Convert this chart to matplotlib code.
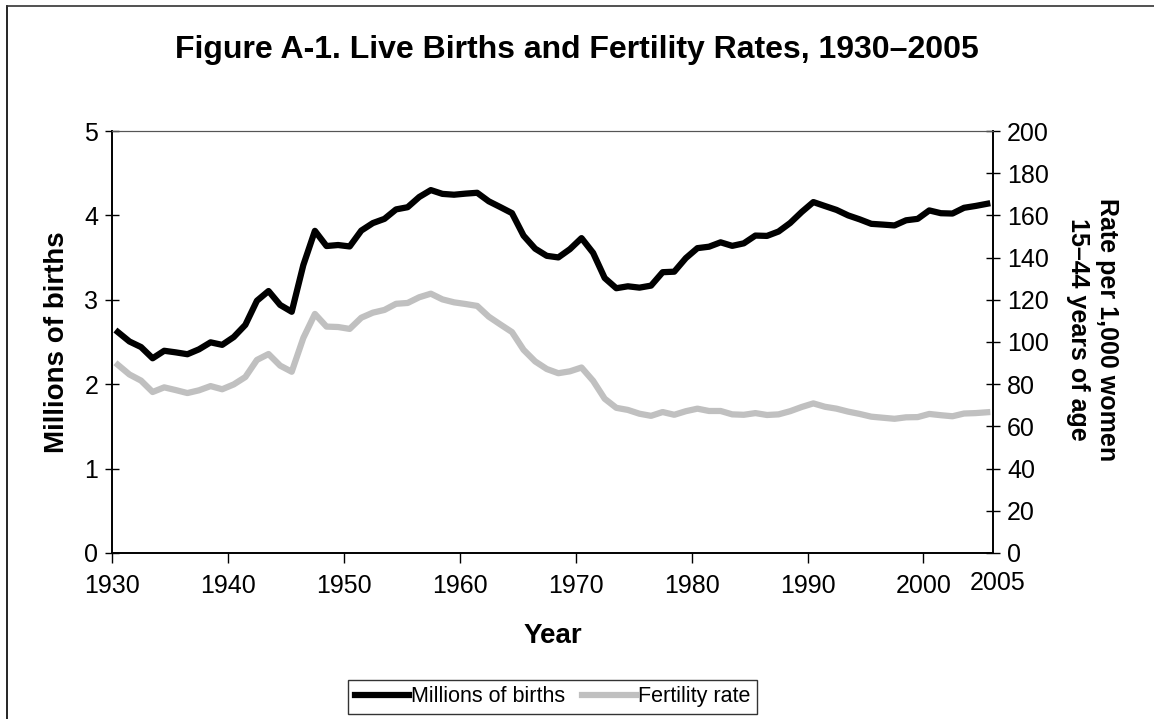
import numpy as np
import matplotlib.pyplot as plt
from matplotlib.lines import Line2D

plt.rcParams['font.family'] = ['Liberation Sans', 'DejaVu Sans']

# data (US live births and general fertility rate)
years = np.arange(1930, 2006)
births = [2.618, 2.506, 2.440, 2.307, 2.396, 2.377, 2.355, 2.413, 2.496, 2.466,
          2.559, 2.703, 2.989, 3.104, 2.939, 2.858, 3.411, 3.817, 3.637, 3.649,
          3.632, 3.820, 3.909, 3.959, 4.071, 4.097, 4.218, 4.300, 4.255, 4.245,
          4.258, 4.268, 4.167, 4.098, 4.027, 3.760, 3.606, 3.521, 3.502, 3.600,
          3.731, 3.556, 3.258, 3.137, 3.160, 3.144, 3.168, 3.327, 3.333, 3.494,
          3.612, 3.629, 3.681, 3.639, 3.669, 3.761, 3.757, 3.809, 3.910, 4.041,
          4.158, 4.111, 4.065, 4.000, 3.953, 3.900, 3.891, 3.881, 3.942, 3.959,
          4.059, 4.026, 4.022, 4.090, 4.112, 4.138]
fertility = [89.2, 84.6, 81.7, 76.3, 78.5, 77.2, 75.8, 77.1, 79.1, 77.6,
             79.9, 83.4, 91.5, 94.3, 88.8, 85.9, 101.9, 113.3, 107.3, 107.1,
             106.2, 111.5, 113.9, 115.2, 118.1, 118.5, 121.2, 122.9, 120.2, 118.8,
             118.0, 117.1, 112.0, 108.3, 104.7, 96.3, 90.8, 87.2, 85.2, 86.1,
             87.9, 81.6, 73.1, 68.8, 67.8, 66.0, 65.0, 66.8, 65.5, 67.2,
             68.4, 67.3, 67.3, 65.7, 65.5, 66.3, 65.4, 65.7, 67.2, 69.2,
             70.9, 69.3, 68.4, 67.0, 65.9, 64.6, 64.1, 63.6, 64.3, 64.4,
             65.9, 65.3, 64.8, 66.1, 66.3, 66.7]
xticks = [1930, 1940, 1950, 1960, 1970, 1980, 1990, 2000]

fig = plt.figure(figsize=(11.54, 7.19), dpi=100)
ax = fig.add_axes([0.0971, 0.2309, 0.7634, 0.5869])
ax2 = ax.twinx()

# category-style axis: each year sits in the middle of its slot
l1, = ax.plot(years + 0.5, births, color='black', lw=4.5, solid_joinstyle='round')
l2, = ax2.plot(years + 0.5, fertility, color='#c0c0c0', lw=4.5, solid_joinstyle='round')

ax.set_xlim(1930, 2006)
ax.set_ylim(0, 5)
ax2.set_ylim(0, 200)
ax.set_xticks(xticks)
ax.set_yticks(range(0, 6))
ax2.set_yticks(range(0, 201, 20))

ax.tick_params(axis='x', labelsize=18, length=7, width=1, pad=8)
ax.tick_params(axis='y', labelsize=18, direction='inout', length=10, width=1, pad=5)
ax2.tick_params(axis='y', labelsize=18, direction='inout', length=10, width=1, pad=5)

for a in (ax, ax2):
    a.spines['top'].set_color('#555555')
    a.spines['left'].set_linewidth(1.2)
    a.spines['right'].set_linewidth(1.2)
    a.spines['bottom'].set_linewidth(1.2)

ax.text(2006.4, -0.07, '2005', transform=ax.get_xaxis_transform(),
        ha='center', va='center', fontsize=18)

ax.set_ylabel('Millions of births', fontsize=20, fontweight='bold', labelpad=10)
ax.set_xlabel('Year', fontsize=20, fontweight='bold', labelpad=18)
ax2.set_ylabel('Rate per 1,000 women\n15\u201344 years of age', fontsize=18,
               fontweight='bold', rotation=-90, linespacing=1.25)
ax2.yaxis.set_label_coords(1.143, 0.53)

fig.suptitle('Figure A-1. Live Births and Fertility Rates, 1930\u20132005',
             fontsize=23, fontweight='bold', y=0.952)

fig.legend([l1, l2], ['Millions of births', 'Fertility rate'], loc='center',
           bbox_to_anchor=(0.479, 0.031), ncol=2, fontsize=15.5, frameon=True,
           fancybox=False, edgecolor='black', handlelength=2.5, handletextpad=0.1,
           columnspacing=0.8, borderpad=0.3, borderaxespad=0)

# outer border of the chart (top and left edges visible)
fig.add_artist(Line2D([0.006, 0.006], [0, 0.992], transform=fig.transFigure,
                      color='black', lw=1.2))
fig.add_artist(Line2D([0.006, 1.0], [0.992, 0.992], transform=fig.transFigure,
                      color='#333333', lw=1.2))

fig.savefig('out.png', dpi=100)
